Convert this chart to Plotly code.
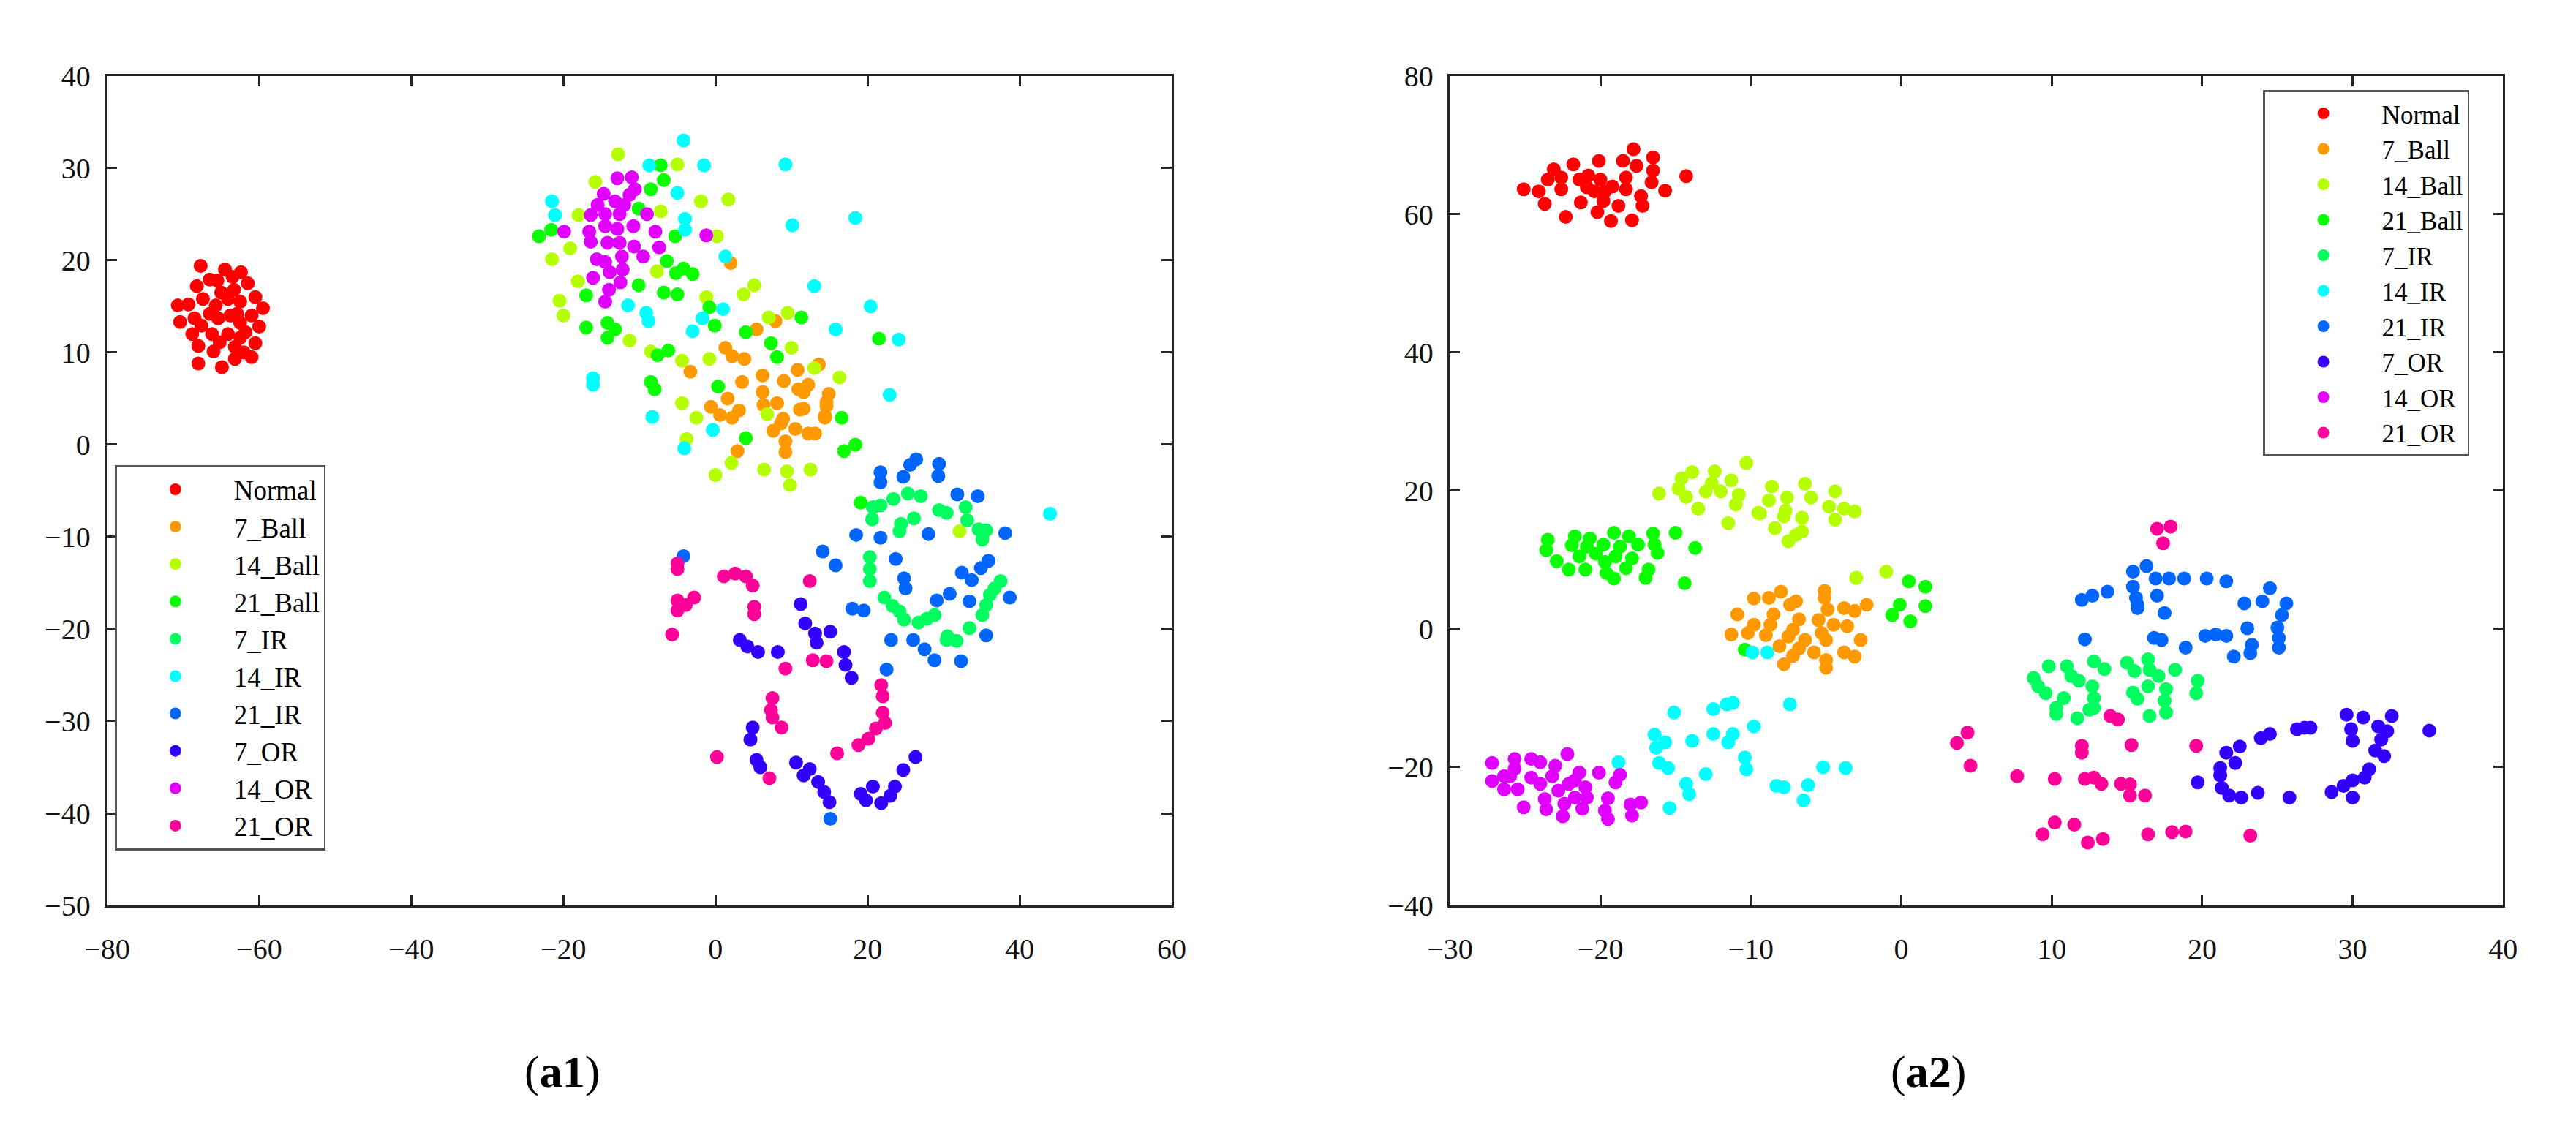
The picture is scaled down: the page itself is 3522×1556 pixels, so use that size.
import plotly.graph_objects as go

W, H = 3522, 1556

CLASSES = ["Normal", "7_Ball", "14_Ball", "21_Ball", "7_IR", "14_IR", "21_IR", "7_OR", "14_OR", "21_OR"]
COLORS = ["#ff0000", "#ff9900", "#b5ff00", "#0aff00", "#00ff5e", "#00ffff", "#0066ff", "#3300ff", "#e100ff", "#ff0099"]

# ---------------- panel (a1) ----------------
a1_normal = [(-67.7,19.4),(-62.4,18.7),(-66.5,17.9),(-65.5,17.8),(-68.2,17.2),(-65.0,16.5),(-63.3,16.8),(-67.4,15.8),
             (-70.7,15.1),(-69.3,15.2),(-65.7,15.1),(-64.1,15.8),(-66.5,14.2),(-62.9,14.2),(-70.4,13.3),(-68.5,13.7),
             (-67.6,12.9),(-65.4,13.7),(-63.8,14.0),(-62.5,13.2),(-68.8,12.0),(-66.2,12.0),(-64.1,12.0),(-62.5,11.6),
             (-68.0,10.7),(-65.2,11.1),(-66.0,10.1),(-63.2,10.6),(-68.0,8.8),(-64.9,8.4),(-63.2,9.3),(-61.5,17.5),
             (-60.5,16.0),(-59.5,14.8),(-61.0,14.0),(-60.0,12.8),(-61.8,12.2),(-60.5,11.0),(-62.0,10.0),(-61.0,9.5),
             (-62.5,15.5),(-63.5,18.2),(-64.5,19.0)]
a1_7ball = [(2.0,19.7),(7.9,13.4),(5.4,12.5),(1.3,10.5),(2.2,9.6),(3.8,9.3),(-3.3,7.9),(3.5,6.8),(6.2,7.5),(6.2,5.7),
            (9.0,6.9),(10.8,8.1),(10.9,6.0),(1.6,5.0),(-0.6,4.1),(3.1,3.7),(6.3,4.3),(8.1,4.5),(11.1,3.8),(0.6,3.2),
            (8.9,2.8),(2.2,2.9),(7.6,1.5),(8.6,2.3),(10.5,1.7),(9.2,0.35),(9.2,-0.8),(2.9,-0.7),(14.4,2.9),(12.2,1.2),
            (13.1,1.2),(14.6,4.2),(13.6,8.7),(12.2,6.5),(11.6,5.7),(14.9,5.5),(14.6,4.6),(14.4,3.1),(11.6,3.9)]
a1_14ball = [(-12.8,31.5),(-5.0,30.4),(-15.8,28.5),(-1.9,26.4),(1.7,26.6),(-18.0,24.9),(-7.2,25.3),(0.2,22.6),
             (-19.1,21.3),(-21.5,20.1),(-7.7,18.8),(-18.1,17.7),(5.1,17.3),(3.7,16.3),(-1.2,16.0),(-20.5,15.6),
             (-20.0,14.0),(7.0,13.8),(9.5,14.3),(-11.3,11.3),(-8.5,10.1),(-4.4,9.1),(-0.8,9.3),(10.0,10.5),(-4.4,4.5),
             (-2.5,2.9),(6.8,3.3),(-3.8,0.6),(2.1,-2.0),(0.0,-3.3),(6.4,-2.7),(9.4,-2.9),(9.8,-4.4),(13.0,8.3),
             (16.3,7.3),(12.5,-2.7),(32.1,-9.4)]
a1_21ball = [(-7.2,30.3),(-6.8,28.7),(-8.5,27.7),(-10.1,25.6),(-21.6,23.3),(-23.2,22.6),(-5.3,22.6),(-6.4,19.9),
             (-4.2,19.1),(-5.2,18.6),(-3.0,18.5),(-10.1,17.3),(-6.8,16.5),(-5.0,16.3),(-17.0,16.2),(-0.8,14.9),
             (-0.1,12.9),(-17.0,12.7),(-14.2,13.2),(-13.2,12.5),(-14.2,11.6),(4.0,12.2),(11.3,13.8),(7.3,11.0),
             (8.1,9.5),(-7.6,9.7),(-6.2,10.2),(-8.5,6.8),(-8.0,6.0),(0.35,6.3),(4.0,0.7),(21.5,11.5),(16.6,2.9),
             (16.9,-0.7),(18.4,0.0),(19.1,-6.3)]
a1_7ir = [(20.7,-6.8),(21.7,-6.6),(20.6,-8.1),(23.4,-5.9),(25.3,-5.3),(27.0,-5.6),(26.1,-8.0),(24.4,-8.6),(24.2,-9.4),
          (29.4,-7.1),(30.4,-7.4),(32.9,-6.8),(33.1,-8.2),(34.6,-9.2),(35.6,-9.3),(35.1,-10.3),(20.3,-12.2),
          (20.3,-13.5),(20.3,-14.8),(22.2,-16.6),(23.3,-17.5),(24.2,-18.1),(24.8,-19.0),(26.7,-19.3),(27.8,-18.9),
          (28.8,-18.5),(37.5,-14.8),(36.7,-15.6),(36.1,-16.3),(35.6,-17.4),(35.1,-18.5),(33.4,-19.9),(30.5,-20.8),
          (31.7,-21.3),(30.4,-21.2)]
a1_14ir = [(-4.2,33.0),(-8.7,30.3),(-1.5,30.3),(9.2,30.4),(-21.5,26.4),(-21.1,24.9),(-5.0,27.3),(-4.0,24.5),
           (-4.0,23.3),(10.1,23.8),(1.3,20.4),(-11.5,15.1),(-9.1,14.3),(-8.8,13.4),(1.0,14.7),(-1.7,13.7),(-3.0,12.3),
           (-16.1,7.2),(-16.1,6.5),(-8.3,3.0),(-0.35,1.6),(-4.1,-0.4),(18.4,24.6),(13.0,17.2),(20.4,15.0),(15.8,12.5),
           (24.1,11.4),(22.9,5.4),(44.0,-7.5)]
a1_21ir = [(21.7,-3.0),(21.7,-4.1),(26.4,-1.6),(25.6,-2.2),(24.7,-3.5),(29.4,-2.1),(29.3,-3.4),(31.8,-5.4),(34.5,-5.6),
           (18.5,-9.8),(21.7,-10.1),(28.0,-9.7),(38.1,-9.6),(14.1,-11.6),(15.8,-13.1),(23.7,-12.4),(24.8,-14.5),
           (25.0,-15.6),(35.9,-12.6),(34.9,-13.4),(32.4,-13.9),(33.7,-14.7),(38.7,-16.6),(30.8,-16.2),(29.1,-16.9),
           (33.4,-17.0),(18.0,-17.8),(19.5,-18.0),(35.6,-20.7),(23.1,-21.2),(26.0,-21.2),(27.5,-22.2),(28.8,-23.4),
           (32.3,-23.5),(22.5,-24.4),(15.1,-40.6),(-4.2,-12.1)]
a1_7or = [(3.2,-21.2),(4.2,-21.9),(5.6,-22.5),(8.2,-22.5),(11.2,-17.3),(11.8,-19.4),(4.9,-30.7),(4.6,-32.0),
          (5.4,-34.2),(5.9,-35.0),(10.6,-34.5),(11.6,-35.9),(13.1,-20.5),(15.1,-20.3),(13.3,-21.5),(16.9,-22.5),
          (17.1,-23.9),(17.9,-25.3),(12.4,-35.2),(13.5,-36.6),(14.3,-37.7),(15.0,-38.8),(19.1,-37.9),(20.7,-37.1),
          (21.8,-38.9),(23.0,-38.1),(23.6,-37.1),(24.7,-35.3),(26.3,-33.9),(19.8,-38.6)]
a1_14or = [(-12.9,28.9),(-11.0,29.0),(-10.6,27.7),(-11.3,27.1),(-14.7,27.2),(-15.5,26.0),(-13.2,26.4),(-12.0,26.0),
           (-16.4,24.9),(-14.5,25.0),(-12.6,25.0),(-9.0,25.0),(-19.9,23.1),(-16.6,23.1),(-14.5,23.7),(-12.9,23.4),
           (-10.8,23.7),(-16.4,22.0),(-14.2,21.9),(-12.6,21.9),(-10.7,21.5),(-7.9,23.1),(-7.4,21.4),(-1.2,22.7),
           (-15.6,20.1),(-14.5,19.8),(-12.3,20.4),(-9.5,20.4),(-13.9,18.7),(-12.2,19.0),(-16.1,18.1),(-12.5,17.6),
           (-14.0,16.8),(-14.5,15.5)]
a1_21or = [(-5.0,-12.9),(-5.0,-13.5),(1.1,-14.3),(2.6,-14.0),(4.0,-14.3),(4.9,-15.3),(-5.0,-16.9),(-2.8,-16.6),
           (-3.9,-17.4),(-5.0,-18.0),(5.1,-17.6),(5.1,-18.4),(-5.7,-20.6),(12.4,-14.8),(9.2,-24.3),(7.5,-27.5),
           (7.3,-28.8),(7.5,-29.6),(8.7,-30.7),(0.2,-33.9),(7.1,-36.2),(12.8,-23.4),(14.6,-23.5),(21.8,-26.1),
           (22.0,-27.3),(22.0,-29.1),(22.3,-30.2),(21.1,-30.8),(20.1,-31.9),(18.8,-32.6),(16.0,-33.5)]

# ---------------- panel (a2) ----------------
a2_normal = [(-25.1,63.6),(-24.1,63.3),(-23.7,61.5),(-23.5,65.0),(-23.1,66.5),(-22.6,63.6),(-22.6,65.3),(-22.3,59.6),
             (-21.8,67.2),(-21.4,65.0),(-21.3,61.7),(-20.8,65.6),(-20.9,63.9),(-20.1,67.7),(-20.2,60.3),(-20.0,65.0),
             (-19.7,63.3),(-19.2,64.0),(-19.8,61.9),(-19.3,59.0),(-18.8,61.2),(-18.5,67.7),(-18.3,65.3),(-17.9,59.1),
             (-17.8,69.4),(-17.6,67.0),(-18.3,63.6),(-17.3,62.6),(-17.2,61.2),(-16.5,68.2),(-16.5,66.3),(-16.6,64.6),
             (-15.7,63.4),(-14.3,65.5),(-20.4,63.3)]
a2_7ball = [(-9.8,4.4),(-8.8,4.5),(-8.0,5.4),(-7.4,3.5),(-7.0,4.0),(-5.1,5.5),(-5.1,4.5),(-10.9,2.1),(-8.5,2.1),
            (-4.9,2.8),(-3.8,3.0),(-3.1,2.6),(-2.3,3.5),(-9.8,0.6),(-8.7,0.6),(-6.8,1.4),(-5.5,1.3),(-4.5,0.6),
            (-3.6,0.4),(-11.3,-0.8),(-10.2,-0.6),(-9.0,-0.9),(-7.2,-0.1),(-7.5,-1.1),(-5.3,-0.6),(-5.0,-1.6),
            (-8.1,-2.5),(-6.4,-1.6),(-6.8,-2.8),(-5.8,-3.4),(-2.7,-1.6),(-3.8,-3.4),(-3.1,-4.0),(-7.2,-3.9),
            (-7.8,-5.1),(-5.0,-4.5),(-5.0,-5.6)]
a2_14ball = [(-16.1,19.6),(-10.3,24.0),(-13.9,22.7),(-14.6,21.8),(-14.8,20.3),(-14.3,19.1),(-13.5,17.4),(-12.4,22.8),
             (-12.6,21.1),(-13.0,19.9),(-12.0,19.9),(-11.3,21.5),(-10.8,19.4),(-11.0,18.0),(-8.6,20.6),(-8.8,18.6),
             (-7.6,19.0),(-6.4,21.0),(-6.0,19.0),(-4.4,19.9),(-4.8,17.7),(-3.8,17.4),(-3.1,17.0),(-9.5,16.8),
             (-7.7,17.1),(-11.5,15.3),(-9.4,16.7),(-8.4,14.6),(-7.8,16.3),(-6.6,16.1),(-6.6,14.1),(-7.5,12.7),
             (-7.0,13.6),(-4.4,15.8),(-3.0,7.4),(-1.0,8.3)]
a2_21ball = [(-23.5,12.9),(-23.6,11.4),(-22.9,9.8),(-22.1,8.6),(-21.7,13.4),(-21.9,12.1),(-21.4,10.5),(-21.0,8.6),
             (-20.7,13.1),(-20.9,11.9),(-20.3,10.9),(-19.8,12.2),(-19.7,9.7),(-19.6,8.1),(-19.1,13.9),(-19.1,7.3),
             (-18.7,11.9),(-19.0,10.5),(-18.1,13.4),(-17.9,10.2),(-18.3,8.8),(-17.5,12.2),(-16.5,13.8),(-16.4,12.2),
             (-16.2,11.0),(-16.8,8.6),(-17.0,7.4),(-15.0,13.9),(-13.7,11.7),(-14.4,6.6),(-10.4,-3.0),(0.5,6.9),
             (1.6,6.1),(-0.1,3.5),(-0.6,2.0),(0.6,1.1),(1.6,3.3)]
a2_7ir = [(8.8,-7.1),(9.1,-8.3),(9.6,-9.3),(9.8,-5.4),(10.3,-11.4),(10.3,-12.3),(10.8,-10.0),(11.0,-5.4),(11.3,-6.8),
          (11.8,-7.5),(11.7,-12.9),(12.8,-4.7),(12.7,-8.3),(12.8,-10.0),(12.8,-11.4),(13.5,-5.8),(12.5,-11.7),
          (15.0,-4.9),(15.5,-6.1),(15.4,-9.2),(15.7,-10.1),(16.4,-4.4),(16.5,-5.9),(16.4,-8.3),(17.1,-6.8),
          (17.6,-8.7),(17.5,-10.4),(17.6,-12.1),(16.5,-12.6),(18.2,-5.9),(19.7,-7.5),(19.6,-9.3)]
a2_14ir = [(-9.9,-3.4),(-8.9,-3.4),(-15.1,-12.1),(-12.5,-11.6),(-11.6,-10.9),(-11.2,-10.7),(-7.4,-10.9),(-16.4,-15.3),
           (-15.7,-16.4),(-16.3,-17.2),(-13.9,-16.2),(-12.5,-15.2),(-11.2,-15.2),(-11.5,-16.4),(-9.8,-14.1),
           (-16.1,-19.4),(-15.5,-20.1),(-18.8,-19.3),(-13.0,-21.0),(-14.3,-22.4),(-14.1,-23.9),(-15.4,-25.9),
           (-10.4,-18.6),(-10.3,-20.3),(-8.3,-22.7),(-7.8,-22.9),(-6.5,-24.8),(-6.2,-22.6),(-5.2,-20.0),(-3.7,-20.1)]
a2_21ir = [(16.3,9.1),(15.4,8.3),(16.9,7.3),(17.8,7.3),(18.8,7.3),(20.3,7.3),(21.6,6.9),(15.4,6.1),(15.6,4.5),
           (15.7,3.5),(17.0,4.8),(17.5,2.3),(12.0,4.2),(12.7,4.8),(13.7,5.4),(24.5,5.9),(22.8,3.7),(24.0,4.0),
           (25.6,3.7),(25.3,2.0),(15.7,3.0),(12.2,-1.5),(16.8,-1.3),(17.3,-1.6),(18.9,-2.7),(20.2,-1.0),(20.9,-0.8),
           (21.6,-1.0),(23.0,0.1),(22.1,-4.0),(23.2,-3.5),(23.3,-2.3),(25.0,0.2),(25.1,-1.3),(25.1,-2.7)]
a2_7or = [(29.6,-12.4),(29.9,-14.5),(30.0,-16.2),(30.7,-12.8),(32.6,-12.6),(31.7,-14.1),(32.3,-14.8),(31.9,-16.0),
          (31.5,-17.6),(32.1,-18.4),(35.1,-14.7),(31.1,-20.3),(30.8,-21.5),(30.0,-21.9),(29.4,-22.7),(28.6,-23.6),
          (30.0,-24.4),(26.8,-14.3),(27.2,-14.3),(26.3,-14.5),(24.5,-15.2),(23.9,-15.8),(22.5,-17.0),(21.6,-17.9),
          (22.2,-19.4),(21.2,-20.1),(21.2,-21.2),(19.7,-22.2),(21.3,-23.0),(21.8,-24.1),(22.6,-24.4),(23.7,-23.7),
          (25.8,-24.4)]
a2_14or = [(-27.2,-19.4),(-27.2,-22.0),(-26.4,-23.2),(-25.7,-18.8),(-26.0,-21.3),(-25.5,-23.2),(-25.1,-25.8),
           (-24.6,-18.8),(-24.0,-19.3),(-24.6,-21.5),(-24.0,-22.4),(-23.7,-24.6),(-23.6,-26.1),(-23.0,-19.8),
           (-23.2,-21.3),(-22.8,-23.4),(-22.4,-25.3),(-22.5,-27.1),(-22.2,-18.1),(-22.1,-22.4),(-21.4,-20.8),
           (-21.7,-21.9),(-21.0,-22.9),(-21.7,-24.4),(-21.2,-26.0),(-20.9,-24.4),(-20.1,-20.8),(-19.5,-24.5),
           (-19.7,-26.3),(-19.5,-27.5),(-19.0,-22.2),(-18.7,-21.1),(-18.0,-25.4),(-17.9,-27.0),(-17.3,-25.1),
           (-25.7,-20.2),(-26.4,-21.3)]
a2_21or = [(17.0,14.5),(17.9,14.8),(17.4,12.4),(13.9,-12.6),(14.4,-13.1),(4.4,-15.0),(3.7,-16.5),(12.0,-16.9),
           (12.0,-17.9),(15.3,-16.8),(19.6,-16.9),(4.6,-19.8),(7.7,-21.3),(10.2,-21.7),(12.2,-21.7),(12.8,-21.5),
           (13.3,-22.4),(14.6,-22.4),(15.2,-22.5),(15.2,-24.1),(16.2,-24.1),(10.2,-28.0),(11.5,-28.3),(9.4,-29.7),
           (12.4,-30.9),(13.4,-30.4),(16.4,-29.7),(18.0,-29.4),(18.9,-29.3),(23.2,-29.9)]

A1 = [a1_normal, a1_7ball, a1_14ball, a1_21ball, a1_7ir, a1_14ir, a1_21ir, a1_7or, a1_14or, a1_21or]
A2 = [a2_normal, a2_7ball, a2_14ball, a2_21ball, a2_7ir, a2_14ir, a2_21ir, a2_7or, a2_14or, a2_21or]

FONT = "Liberation Serif, Times New Roman, serif"
AX = "#262626"
MSIZE = 19

fig = go.Figure()
for name, col, pts in zip(CLASSES, COLORS, A1):
    fig.add_trace(go.Scatter(x=[p[0] for p in pts], y=[p[1] for p in pts], mode="markers", name=name,
                             marker=dict(color=col, size=MSIZE, line=dict(width=0)),
                             xaxis="x", yaxis="y", legend="legend"))
for name, col, pts in zip(CLASSES, COLORS, A2):
    fig.add_trace(go.Scatter(x=[p[0] for p in pts], y=[p[1] for p in pts], mode="markers", name=name,
                             marker=dict(color=col, size=MSIZE, line=dict(width=0)),
                             xaxis="x2", yaxis="y2", legend="legend2"))

ydom = [(H - 1244) / H, (H - 76) / H]
common = dict(showline=True, linecolor=AX, linewidth=2.5, mirror="ticks", ticks="inside", ticklen=14,
              tickwidth=2.5, tickcolor=AX, showgrid=False, zeroline=False,
              tickfont=dict(family=FONT, size=40, color="#111111"))
xcommon = dict(common, ticklabelstandoff=22)
ycommon = dict(common, ticklabelstandoff=12)

legend_base = dict(xanchor="left", yanchor="top", bgcolor="white", bordercolor="#555555", borderwidth=2.5,
                   itemwidth=150, tracegroupgap=0)

fig.update_layout(
    width=W, height=H, paper_bgcolor="white", plot_bgcolor="white",
    margin=dict(l=0, r=0, t=0, b=0),
    xaxis=dict(domain=[109 / W, 1586 / W], range=[-80, 60], dtick=20, tick0=0, anchor="y", **xcommon),
    yaxis=dict(domain=ydom, range=[-50, 40], dtick=10, tick0=0, anchor="x", **ycommon),
    xaxis2=dict(domain=[1972 / W, 3433 / W], range=[-30, 40], dtick=10, tick0=0, anchor="y2", **xcommon),
    yaxis2=dict(domain=ydom, range=[-40, 80], dtick=20, tick0=0, anchor="x2", **ycommon),
    legend=dict(x=120 / W, y=1 - 624 / H, font=dict(family=FONT, size=37, color="black"), **legend_base),
    legend2=dict(x=3100 / W, y=1 - 96 / H, font=dict(family=FONT, size=35, color="black"), **legend_base),
    annotations=[
        dict(text="(<b>a1</b>)", x=740 / W, y=1 - 1478 / H, xref="paper", yref="paper", showarrow=False,
             xanchor="center", yanchor="middle", font=dict(family=FONT, size=62, color="black")),
        dict(text="(<b>a2</b>)", x=2636 / W, y=1 - 1478 / H, xref="paper", yref="paper", showarrow=False,
             xanchor="center", yanchor="middle", font=dict(family=FONT, size=62, color="black")),
    ],
)

fig.write_html("out.html")
